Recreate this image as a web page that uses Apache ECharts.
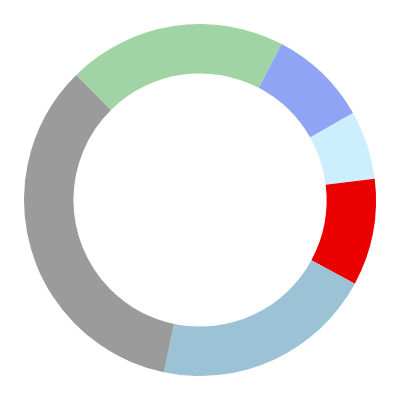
<!DOCTYPE html>
<html>
<head>
<meta charset="utf-8">
<script src="https://cdn.jsdelivr.net/npm/echarts@6/dist/echarts.min.js"></script>
<style>
  html, body { margin: 0; padding: 0; background: #fff; }
  #main { width: 400px; height: 400px; }
</style>
</head>
<body>
<div id="main"></div>
<script>
// slice order, clockwise from the gray/green edge
var names = ['A', 'B', 'C', 'D', 'E', 'F'];
var values = [20.1, 9.1, 6.3, 9.8, 20.4, 34.3];
var colors = ['#a1d4a5', '#8fa4f5', '#cdeefd', '#ea0000', '#9bc3d5', '#9b9b9b'];

var pieData = [];
for (var i = 0; i < names.length; i++) {
    pieData.push({
        name: names[i],
        value: values[i],
        itemStyle: { color: colors[i] }
    });
}

var myChart = echarts.init(document.getElementById('main'));
var option = {
    animation: false,
    series: [
        {
            type: 'pie',
            center: ['50%', '50%'],
            radius: ['63.3%', '88%'],
            startAngle: 134.7,
            clockwise: true,
            label: { show: false },
            labelLine: { show: false },
            itemStyle: { borderWidth: 0 },
            emphasis: { disabled: true },
            data: pieData
        }
    ]
};
myChart.setOption(option);
</script>
</body>
</html>
